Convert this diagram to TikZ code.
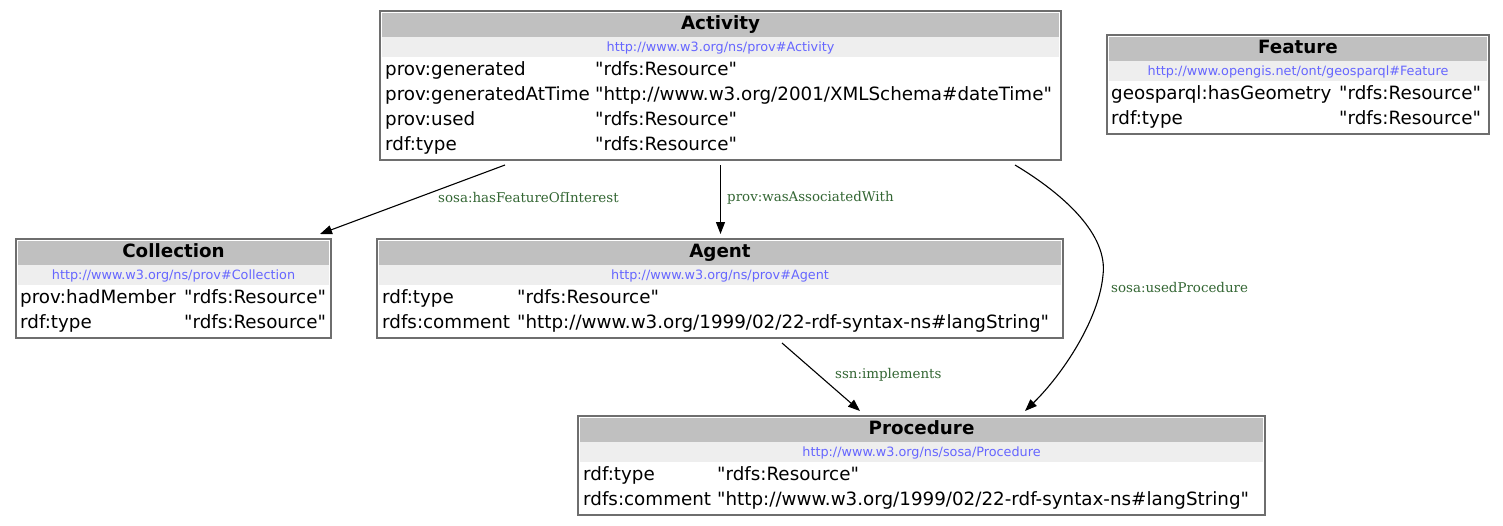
\documentclass[tikz,border=0pt]{standalone}
\usepackage{fontspec}
\setmainfont{DejaVu Sans}[Ligatures=TeXOff]
\newfontfamily\lblfont{DejaVu Serif}[Ligatures=TeXOff]
\usetikzlibrary{arrows.meta}
\definecolor{titlebg}{RGB}{192,192,192}
\definecolor{urlbg}{RGB}{238,238,238}
\definecolor{urlcol}{RGB}{102,102,255}
\definecolor{lblcol}{RGB}{51,102,51}
\definecolor{bordercol}{RGB}{110,110,110}
\tikzset{
  recbox/.style={draw=bordercol, line width=1.1pt, rectangle, inner sep=0pt, outer sep=0pt},
  titletxt/.style={inner sep=0pt, anchor=base, font=\fontsize{18.3}{20}\selectfont\bfseries},
  urltxt/.style={inner sep=0pt, anchor=base, text=urlcol, font=\fontsize{12.8}{15}\selectfont},
  rowtxt/.style={inner sep=0pt, anchor=base west, font=\fontsize{18.3}{20}\selectfont},
  edge/.style={draw=black, line width=1.1pt, -{Triangle[length=12pt,width=9pt]}},
  elabel/.style={inner sep=0pt, anchor=west, text=lblcol, font=\lblfont\fontsize{13.4}{15}\selectfont},
}
% #1 name, #2 left, #3 top, #4 right, #5 rows, #6 title, #7 url
\newcommand{\mkrec}[7]{%
  \pgfmathsetmacro\recH{49+25*#5}%
  \pgfmathsetmacro\recW{#4-#2}%
  \node[recbox, minimum width=\recW pt, minimum height=\recH pt, anchor=north west] (#1) at (#2,-#3) {};
  \fill[titlebg] ([xshift=2pt,yshift=-2pt]#1.north west) rectangle ([xshift=-2pt,yshift=-26pt]#1.north east);
  \fill[urlbg] ([xshift=2pt,yshift=-26pt]#1.north west) rectangle ([xshift=-2pt,yshift=-46pt]#1.north east);
  \node[titletxt] (#1-t) at ([yshift=-18.5pt]#1.north) {#6};
  \node[urltxt] (#1-u) at ([yshift=-40.6pt]#1.north) {#7};
}
% #1 name, #2 keyx, #3 valx, #4 top, #5 row index, #6 key, #7 value
\newcommand{\rowkv}[7]{%
  \node[rowtxt] (#1-k#5) at (#2,{-(#4+46+25*#5+12.5+6)}) {#6};
  \node[rowtxt] (#1-v#5) at (#3,{-(#4+46+25*#5+12.5+6)}) {#7};
}
\begin{document}
\begin{tikzpicture}[x=1pt,y=1pt]
\useasboundingbox[fill=white] (0,0) rectangle (1503,-525);
% Activity
\mkrec{act}{380}{11}{1061}{4}{Activity}{http://www.w3.org/ns/prov\#Activity}
\rowkv{act}{385}{595}{11}{0}{prov:generated}{"rdfs:Resource"}
\rowkv{act}{385}{595}{11}{1}{prov:generatedAtTime}{"http://www.w3.org/2001/XMLSchema\#dateTime"}
\rowkv{act}{385}{595}{11}{2}{prov:used}{"rdfs:Resource"}
\rowkv{act}{385}{595}{11}{3}{rdf:type}{"rdfs:Resource"}
% Feature
\mkrec{feat}{1107}{35}{1489}{2}{Feature}{http://www.opengis.net/ont/geosparql\#Feature}
\rowkv{feat}{1111}{1339}{35}{0}{geosparql:hasGeometry}{"rdfs:Resource"}
\rowkv{feat}{1111}{1339}{35}{1}{rdf:type}{"rdfs:Resource"}
% Collection
\mkrec{col}{16}{239}{331}{2}{Collection}{http://www.w3.org/ns/prov\#Collection}
\rowkv{col}{20}{184}{239}{0}{prov:hadMember}{"rdfs:Resource"}
\rowkv{col}{20}{184}{239}{1}{rdf:type}{"rdfs:Resource"}
% Agent
\mkrec{agent}{377}{239}{1063}{2}{Agent}{http://www.w3.org/ns/prov\#Agent}
\rowkv{agent}{382}{517}{239}{0}{rdf:type}{"rdfs:Resource"}
\rowkv{agent}{382}{517}{239}{1}{rdfs:comment}{"http://www.w3.org/1999/02/22-rdf-syntax-ns\#langString"}
% Procedure
\mkrec{proc}{578}{416}{1265}{2}{Procedure}{http://www.w3.org/ns/sosa/Procedure}
\rowkv{proc}{583}{717}{416}{0}{rdf:type}{"rdfs:Resource"}
\rowkv{proc}{583}{717}{416}{1}{rdfs:comment}{"http://www.w3.org/1999/02/22-rdf-syntax-ns\#langString"}
% edges
\draw[edge] ([shift={(-215.5,-5)}]act.south) -- ([shift={(146.5,5)}]col.north);
\draw[edge] ([yshift=-5pt]act.south) -- ([shift={(0.5,5)}]agent.north);
\draw[edge] ([shift={(294.5,-5)}]act.south) .. controls (1065,-195) and (1108,-235) .. (1103,-275) .. controls (1099,-320) and (1062,-375) .. ([shift={(103.5,5)}]proc.north);
\draw[edge] ([shift={(62,-5)}]agent.south) -- ([shift={(-61.5,5)}]proc.north);
% edge labels
\node[elabel] (l1) at (438,-197) {sosa:hasFeatureOfInterest};
\node[elabel] (l2) at (727,-198) {prov:wasAssociatedWith};
\node[elabel] (l3) at (1111,-287) {sosa:usedProcedure};
\node[elabel] (l4) at (835,-375) {ssn:implements};
\end{tikzpicture}
\end{document}
